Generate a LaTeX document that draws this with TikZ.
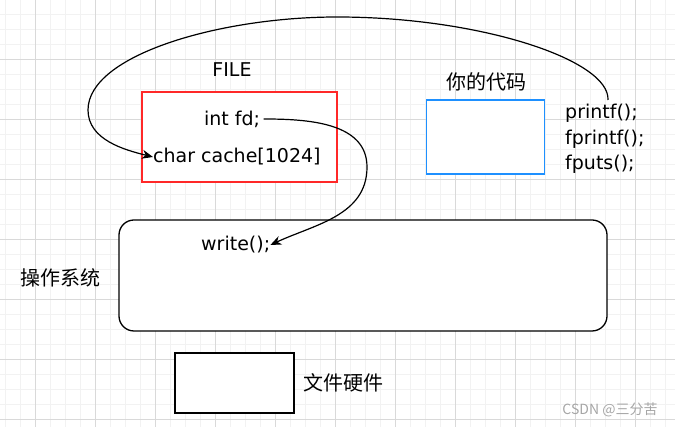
\documentclass[tikz,border=0pt]{standalone}
\usepackage{fontspec}
\setmainfont{DejaVu Sans}
\newfontfamily\cjk{Noto Sans CJK SC}
\usetikzlibrary{arrows.meta}
\definecolor{minorgrid}{RGB}{242,242,242}
\definecolor{majorgrid}{RGB}{217,217,217}
\definecolor{filered}{RGB}{255,40,40}
\definecolor{codeblue}{RGB}{30,144,255}
\tikzset{
  box/.style={draw, line width=1.3pt, inner sep=0pt},
  code/.style={font=\fontsize{19}{25.5}\selectfont},
  han/.style={font=\cjk\fontsize{20}{24}\selectfont},
  curvy/.style={-{Stealth[length=11pt,width=9pt]}, line width=1.2pt}
}
\begin{document}
\begin{tikzpicture}[x=1pt,y=1pt]
  \useasboundingbox (0,0) rectangle (675,427);
  % grid
  \foreach \gx in {5,20,...,675} \draw[minorgrid, line width=1pt] (\gx,0) -- (\gx,427);
  \foreach \gy in {7,22,...,427} \draw[minorgrid, line width=1pt] (0,\gy) -- (675,\gy);
  \foreach \gx in {35,95,...,675} \draw[majorgrid, line width=1pt] (\gx,0) -- (\gx,427);
  \foreach \gy in {7,67,...,427} \draw[majorgrid, line width=1pt] (0,\gy) -- (675,\gy);

  % FILE
  \node[code] (file) at (232,357) {FILE};
  \node[box, draw=filered, fill=white, minimum width=195, minimum height=90] (filebox) at (239.5,290) {};
  \node[code] (fd) at (232,308) {int fd;};
  \node[code, anchor=west, inner sep=0pt] (cache) at (153,270) {char cache[1024]};

  % your code
  \node[han] (codelabel) at (486,345) {你的代码};
  \node[box, draw=codeblue, fill=white, minimum width=118, minimum height=74] (codebox) at (485.5,290) {};
  \node[code, anchor=west, align=left, inner sep=0pt] (calls) at (565,288) {printf();\\fprintf();\\fputs();};

  % OS
  \node[box, fill=white, rounded corners=15pt, minimum width=488, minimum height=111] (os) at (363,151.5) {};
  \node[code, anchor=west, inner sep=0pt] (write) at (201,182) {write();};
  \node[han] (oslabel) at (60,149) {操作系统};

  % hardware
  \node[box, fill=white, minimum width=119, minimum height=60] (hw) at (234.5,44) {};
  \node[han, anchor=west] (hwlabel) at (300,44) {文件硬件};

  \node[text=gray!70, font=\cjk\fontsize{14}{16}\selectfont] (mark) at (610,17) {CSDN @三分苦};

  \coordinate (callstop) at (608,327);
  \draw[curvy] (callstop) .. controls (610,367) and (480,410) .. (337,410)
    .. controls (220,410) and (88,372) .. (88,317)
    .. controls (88,287) and (125,277) .. (cache.west);
  \draw[curvy] (fd.east) to[out=0,in=90] (367,260) to[out=-90,in=25] (write.east);
\end{tikzpicture}
\end{document}
